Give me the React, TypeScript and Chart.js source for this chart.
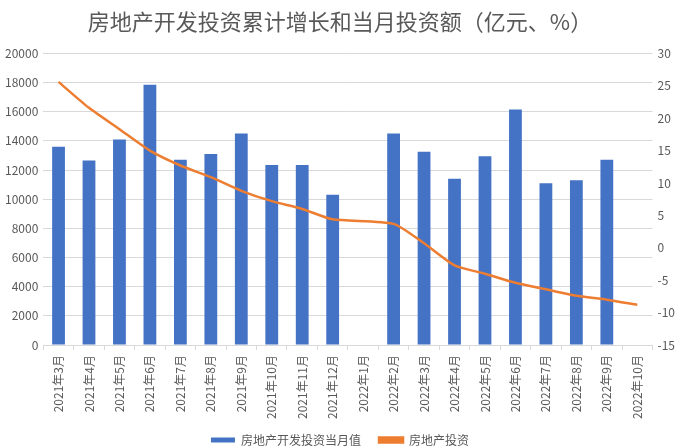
import React, { useEffect, useRef } from "react";
import { Chart, registerables } from "chart.js";

Chart.register(...registerables);

const categories = [
  "2021年3月", "2021年4月", "2021年5月", "2021年6月", "2021年7月", "2021年8月",
  "2021年9月", "2021年10月", "2021年11月", "2021年12月", "2022年1月", "2022年2月",
  "2022年3月", "2022年4月", "2022年5月", "2022年6月", "2022年7月", "2022年8月",
  "2022年9月", "2022年10月",
];

const monthlyValue = [
  13600, 12650, 14100, 17850, 12700, 13100, 14500, 12350, 12350, 10300, null, 14500,
  13250, 11400, 12950, 16150, 11100, 11300, 12700, null,
];

const cumulativeGrowth = [
  25.6, 21.6, 18.3, 15.0, 12.7, 10.9, 8.8, 7.2, 6.0, 4.4, null, 3.7,
  0.7, -2.7, -4.0, -5.4, -6.4, -7.4, -8.0, -8.8,
];

const seriesNames = ["房地产开发投资当月值", "房地产投资"];
const title = "房地产开发投资累计增长和当月投资额（亿元、%）";

const FONT = "'Noto Sans CJK SC', 'Noto Sans', sans-serif";
const GRAY = "#595959";

export default function App() {
  const ref = useRef<HTMLCanvasElement | null>(null);

  useEffect(() => {
    document.body.style.margin = "0";
    const canvas = ref.current;
    if (!canvas) return;
    const chart = new Chart(canvas, {
      type: "bar",
      data: {
        labels: categories,
        datasets: [
          {
            type: "bar",
            label: seriesNames[0],
            data: monthlyValue as any,
            backgroundColor: "#4472C4",
            borderColor: "#4472C4",
            barPercentage: 0.42,
            categoryPercentage: 1,
            yAxisID: "y",
            order: 2,
          },
          {
            type: "line",
            label: seriesNames[1],
            data: cumulativeGrowth as any,
            borderColor: "#ED7D31",
            backgroundColor: "#ED7D31",
            borderWidth: 2.5,
            pointRadius: 0,
            tension: 0.2,
            spanGaps: true,
            yAxisID: "y1",
            order: 1,
          },
        ],
      },
      options: {
        responsive: false,
        animation: false,
        layout: { padding: { left: 0, right: 0, top: 0, bottom: -10 } },
        plugins: {
          title: {
            display: true,
            text: title,
            color: GRAY,
            font: { family: FONT, size: 22, weight: "normal" },
            padding: { top: 8, bottom: 19 },
          },
          legend: {
            position: "bottom",
            labels: {
              color: GRAY,
              font: { family: FONT, size: 12 },
              boxWidth: 24,
              boxHeight: 5,
              padding: 10,
              generateLabels: (c: any) => {
                const items = (Chart.defaults.plugins.legend.labels as any).generateLabels(c);
                items.forEach((it: any) => {
                  if (it.datasetIndex === 0) it.text = it.text + "   ";
                });
                return items;
              },
              sort: (a: any, b: any) => a.datasetIndex - b.datasetIndex,
            },
          },
          tooltip: { enabled: false },
        },
        scales: {
          x: {
            grid: {
              drawOnChartArea: false,
              drawTicks: true,
              tickLength: 5,
              color: "#d9d9d9",
            },
            border: { color: "#d9d9d9" },
            ticks: {
              color: GRAY,
              font: { family: FONT, size: 12 },
              minRotation: 90,
              maxRotation: 90,
              autoSkip: false,
              padding: 5,
            },
          },
          y: {
            position: "left",
            min: 0,
            max: 20000,
            ticks: {
              stepSize: 2000,
              color: GRAY,
              font: { family: FONT, size: 12 },
              padding: 5,
              callback: (v: any) => String(v),
            },
            grid: { color: "#d9d9d9", drawTicks: false },
            border: { display: false },
          },
          y1: {
            position: "right",
            min: -15,
            max: 30,
            ticks: {
              stepSize: 5,
              color: GRAY,
              font: { family: FONT, size: 12 },
              padding: 5,
              callback: (v: any) => String(v),
            },
            grid: { drawOnChartArea: false, drawTicks: false },
            border: { display: false },
          },
        },
      },
    });
    return () => chart.destroy();
  }, []);

  return (
    <div style={{ width: 680, height: 446 }}>
      <canvas ref={ref} width={680} height={446} style={{ width: 680, height: 446 }} />
    </div>
  );
}
